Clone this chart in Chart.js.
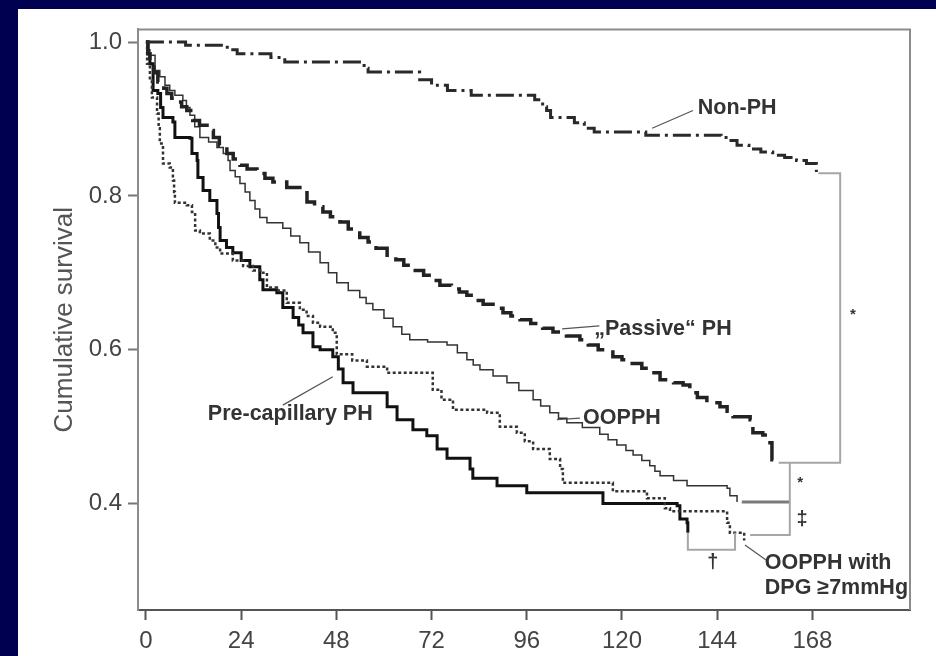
<!DOCTYPE html>
<html>
<head>
<meta charset="utf-8">
<script src="https://cdn.jsdelivr.net/npm/chart.js@4.4.1/dist/chart.umd.min.js"></script>
<style>
  html, body { margin: 0; padding: 0; background: #000050; }
  #panel { position: absolute; left: 18px; top: 9px; width: 918px; height: 647px; background: #fff; }
  canvas { display: block; }
</style>
</head>
<body>
<div id="panel"><canvas id="km" width="918" height="647"></canvas></div>
<script>
// axis ticks
const xTicks = [0, 24, 48, 72, 96, 120, 144, 168];
const yTicks = [0.4, 0.6, 0.8, 1.0];

// Kaplan-Meier curves (months, cumulative survival)
const nonPhMonths = [0, 10, 20.5, 23, 31.5, 35, 55, 56, 69, 72, 76, 82, 98, 100, 101, 102, 108, 110.5, 113, 126, 145, 147, 149, 152, 155, 158, 161, 164, 166.5, 169];
const nonPhSurv   = [1.0, 0.996, 0.99, 0.985, 0.98, 0.974, 0.966, 0.961, 0.951, 0.944, 0.937, 0.931, 0.925, 0.916, 0.911, 0.902, 0.895, 0.888, 0.883, 0.879, 0.876, 0.872, 0.866, 0.861, 0.857, 0.853, 0.85, 0.846, 0.842, 0.831];

const passiveMonths = [0, 0.5, 1, 2, 3, 4.5, 5.3, 6.5, 7.8, 9, 10.3, 11.8, 13.5, 15.4, 17, 18.5, 20.4, 22, 23.7, 25.5, 28, 30, 32, 35.5, 38.8, 40.6, 42.5, 44.6, 46.5, 48.9, 51, 53.9, 56, 58, 60.8, 63, 65, 67.3, 70, 72, 74.1, 77, 79, 80.9, 83, 85, 87.5, 90, 92, 94.3, 97, 100, 102.6, 106, 109.4, 111.5, 114, 117.7, 120, 122, 125, 127, 129.6, 133, 135.4, 137.1, 139, 141.4, 144.7, 146.5, 148, 152.3, 153, 155.5, 156.8, 157.8, 159.1];
const passiveSurv   = [1.0, 0.985, 0.972, 0.96, 0.948, 0.94, 0.933, 0.927, 0.922, 0.916, 0.911, 0.898, 0.892, 0.885, 0.876, 0.866, 0.855, 0.848, 0.84, 0.835, 0.829, 0.823, 0.818, 0.811, 0.804, 0.792, 0.786, 0.779, 0.773, 0.766, 0.757, 0.746, 0.74, 0.732, 0.723, 0.717, 0.71, 0.703, 0.697, 0.69, 0.684, 0.679, 0.675, 0.671, 0.664, 0.659, 0.654, 0.648, 0.644, 0.639, 0.634, 0.628, 0.623, 0.618, 0.613, 0.606, 0.6, 0.591, 0.587, 0.582, 0.576, 0.57, 0.561, 0.557, 0.554, 0.544, 0.538, 0.531, 0.526, 0.52, 0.513, 0.509, 0.492, 0.489, 0.479, 0.457, 0.453];

const ooppMonths = [0, 0.5, 1, 2.3, 3.5, 4.8, 6, 7.3, 9.3, 10.2, 11.1, 12.3, 13.6, 15.8, 17.9, 19.5, 20.7, 21.2, 22.5, 23.7, 25, 26.2, 27.5, 28.7, 30.5, 34.5, 36.5, 38.8, 41, 43.9, 46, 48.1, 51, 53.9, 55.5, 57.2, 60, 62.3, 64.5, 66.5, 71, 75.9, 78.5, 80.9, 82.5, 84.2, 87.5, 91, 94, 97.6, 99.5, 101.8, 104, 106.1, 110, 114.4, 116.5, 118.7, 121, 122.8, 125, 127, 128.3, 129.6, 133, 136.4, 146.5, 147.2, 149];
const ooppSurv   = [1.0, 0.99, 0.983, 0.963, 0.955, 0.944, 0.937, 0.931, 0.924, 0.915, 0.905, 0.89, 0.876, 0.87, 0.863, 0.855, 0.846, 0.833, 0.825, 0.816, 0.805, 0.794, 0.783, 0.772, 0.765, 0.758, 0.748, 0.739, 0.727, 0.713, 0.7, 0.687, 0.677, 0.668, 0.66, 0.652, 0.641, 0.63, 0.62, 0.613, 0.61, 0.606, 0.596, 0.587, 0.58, 0.574, 0.566, 0.557, 0.547, 0.535, 0.527, 0.518, 0.511, 0.505, 0.499, 0.49, 0.483, 0.476, 0.469, 0.463, 0.456, 0.449, 0.442, 0.436, 0.43, 0.423, 0.42, 0.41, 0.402];

const precapMonths = [0, 0.5, 1, 1.8, 3, 3.7, 4.3, 6.8, 7.3, 11.1, 11.6, 12.9, 13.1, 14.4, 16.1, 17.9, 18.3, 18.7, 20.3, 21.9, 24, 26.2, 28.7, 29.5, 33, 34.5, 37.1, 38.5, 39.6, 42.1, 43.9, 47.1, 48.5, 49.7, 52.2, 60.8, 63.3, 67.3, 70.8, 73.4, 75.9, 81.7, 82.4, 88.5, 96, 115.2, 133.9, 134.6, 136.4, 136.6];
const precapSurv   = [1.0, 0.985, 0.972, 0.937, 0.933, 0.915, 0.902, 0.896, 0.876, 0.875, 0.855, 0.846, 0.824, 0.807, 0.794, 0.777, 0.759, 0.742, 0.733, 0.726, 0.716, 0.708, 0.691, 0.678, 0.674, 0.655, 0.642, 0.632, 0.622, 0.604, 0.6, 0.591, 0.575, 0.557, 0.544, 0.526, 0.509, 0.496, 0.488, 0.471, 0.459, 0.445, 0.433, 0.423, 0.414, 0.4, 0.397, 0.38, 0.375, 0.362];

const dpgMonths = [0, 0.3, 1, 1.5, 2.8, 3.2, 3.5, 4.3, 6, 6.8, 7.1, 7.3, 10.3, 11.6, 12.4, 13.6, 16.1, 17.5, 18.7, 21.9, 24.5, 27, 29.5, 30.5, 33, 35.5, 38.8, 40.5, 42.1, 43.9, 47.1, 48.1, 52, 55.7, 60.8, 72.3, 74.5, 77.4, 86, 89.2, 93.5, 95.5, 97.6, 101.8, 104.4, 105.1, 117.7, 126.3, 130.8, 132.1, 146.5, 147.2, 150.8];
const dpgSurv   = [1.0, 0.972, 0.95, 0.928, 0.907, 0.888, 0.868, 0.842, 0.837, 0.82, 0.805, 0.791, 0.788, 0.779, 0.755, 0.751, 0.742, 0.733, 0.725, 0.716, 0.709, 0.703, 0.7, 0.681, 0.677, 0.661, 0.652, 0.644, 0.635, 0.63, 0.622, 0.594, 0.586, 0.578, 0.57, 0.548, 0.535, 0.522, 0.518, 0.5, 0.492, 0.481, 0.471, 0.458, 0.445, 0.427, 0.416, 0.407, 0.394, 0.39, 0.375, 0.362, 0.352];

// significance brackets (months, survival)
const bracketStarMonths = [169.5, 175, 175, 159.5];
const bracketStarSurv   = [0.8295, 0.8295, 0.453, 0.453];
const bracketRightMonths = [162.3, 162.3, 152.3];
const bracketRightSurv   = [0.453, 0.359, 0.359];
const bracketOoppMonths = [150.2, 162.3];
const bracketOoppSurv   = [0.402, 0.402];
const bracketDaggerMonths = [136.6, 136.6, 148.5, 148.5];
const bracketDaggerSurv   = [0.362, 0.34, 0.34, 0.362];

// curve labels and their leader lines
const curveLabels = [
  { text: 'Non-PH', m: 139.1, s: 0.914 },
  { text: '\u201EPassive\u201C PH', m: 113.0, s: 0.627 },
  { text: 'OOPPH', m: 110.2, s: 0.511 },
  { text: 'Pre-capillary PH', m: 15.6, s: 0.516 },
  { text: 'OOPPH with', m: 156, s: 0.322 },
  { text: 'DPG \u22657mmHg', m: 156, s: 0.290 }
];
const leaderLines = [
  [[127.6, 0.888], [137.9, 0.911]],
  [[104.9, 0.627], [114.3, 0.631]],
  [[103.6, 0.509], [109.4, 0.511]],
  [[34.5, 0.528], [47.1, 0.565]],
  [[151.0, 0.346], [156.5, 0.326]]
];
const sigMarks = [
  { text: '*', m: 178.2, s: 0.645, size: 15 },
  { text: '*', m: 164.9, s: 0.427, size: 15 },
  { text: '\u2021', m: 165.4, s: 0.379, size: 20 },
  { text: '\u2020', m: 142.9, s: 0.323, size: 20 }
];

function pts(ms, ss) {
  return ms.map((m, i) => ({ x: m, y: ss[i] }));
}

function curve(ms, ss, color, width, dash) {
  return {
    data: pts(ms, ss),
    borderColor: color,
    borderWidth: width,
    borderDash: dash,
    stepped: true,
    pointRadius: 0,
    fill: false
  };
}

function bracket(ms, ss, color, width) {
  return {
    data: pts(ms, ss),
    borderColor: color,
    borderWidth: width,
    pointRadius: 0,
    fill: false
  };
}

const datasets = [
  bracket(bracketStarMonths, bracketStarSurv, '#a6a6a6', 2),
  bracket(bracketRightMonths, bracketRightSurv, '#a6a6a6', 2),
  bracket(bracketOoppMonths, bracketOoppSurv, '#7a7a7a', 3),
  bracket(bracketDaggerMonths, bracketDaggerSurv, '#a6a6a6', 2),
  curve(nonPhMonths, nonPhSurv, '#2a2a2a', 3, [18, 5, 3, 5]),
  curve(passiveMonths, passiveSurv, '#222', 3.5, [22, 9]),
  curve(ooppMonths, ooppSurv, '#333', 1.5, []),
  curve(dpgMonths, dpgSurv, '#333', 2.5, [3, 2.5]),
  curve(precapMonths, precapSurv, '#111', 3, [])
];
leaderLines.forEach(l => {
  datasets.push(bracket(l.map(p => p[0]), l.map(p => p[1]), '#555', 1.2));
});

const textPlugin = {
  id: 'kmText',
  afterDatasetsDraw(chart) {
    const { ctx, chartArea, scales: { x, y } } = chart;
    ctx.save();
    // top and right frame
    ctx.strokeStyle = '#8c8c8c';
    ctx.lineWidth = 2;
    ctx.beginPath();
    ctx.moveTo(chartArea.left, chartArea.top);
    ctx.lineTo(chartArea.right, chartArea.top);
    ctx.lineTo(chartArea.right, chartArea.bottom);
    ctx.stroke();

    ctx.fillStyle = '#333';
    ctx.textBaseline = 'middle';
    ctx.textAlign = 'left';
    ctx.font = 'bold 21.5px "Liberation Sans", Arial, sans-serif';
    curveLabels.forEach(l => {
      ctx.fillText(l.text, x.getPixelForValue(l.m), y.getPixelForValue(l.s));
    });
    ctx.textAlign = 'center';
    sigMarks.forEach(l => {
      ctx.font = 'bold ' + l.size + 'px "Liberation Sans", Arial, sans-serif';
      ctx.fillText(l.text, x.getPixelForValue(l.m), y.getPixelForValue(l.s));
    });
    ctx.restore();
  }
};

const tickFont = { family: '"Liberation Sans", Arial, sans-serif', size: 24 };

new Chart(document.getElementById('km'), {
  type: 'line',
  data: { datasets: datasets },
  options: {
    responsive: false,
    animation: false,
    layout: { padding: { top: 20, right: 26, left: 0, bottom: 0 } },
    plugins: { legend: { display: false }, tooltip: { enabled: false } },
    scales: {
      x: {
        type: 'linear',
        min: -2,
        max: 192.6,
        afterBuildTicks: s => { s.ticks = xTicks.map(v => ({ value: v })); },
        afterFit: s => { s.height = 46; },
        ticks: { color: '#444', font: tickFont, padding: 7, maxRotation: 0 },
        grid: { drawOnChartArea: false, drawTicks: true, tickLength: 10, tickColor: '#555', tickWidth: 2 },
        border: { color: '#555', width: 2 }
      },
      y: {
        type: 'linear',
        min: 0.2616,
        max: 1.0165,
        afterBuildTicks: s => { s.ticks = yTicks.map(v => ({ value: v })); },
        afterFit: s => { s.width = 120; },
        ticks: { color: '#444', font: tickFont, padding: 6, callback: v => v.toFixed(1) },
        grid: { drawOnChartArea: false, drawTicks: true, tickLength: 10, tickColor: '#777', tickWidth: 2 },
        border: { color: '#8c8c8c', width: 2 },
        title: {
          display: true,
          text: 'Cumulative survival',
          color: '#555',
          font: { family: '"Liberation Sans", Arial, sans-serif', size: 26 },
          padding: { top: 31, bottom: 0 }
        }
      }
    }
  },
  plugins: [textPlugin]
});
</script>
</body>
</html>
